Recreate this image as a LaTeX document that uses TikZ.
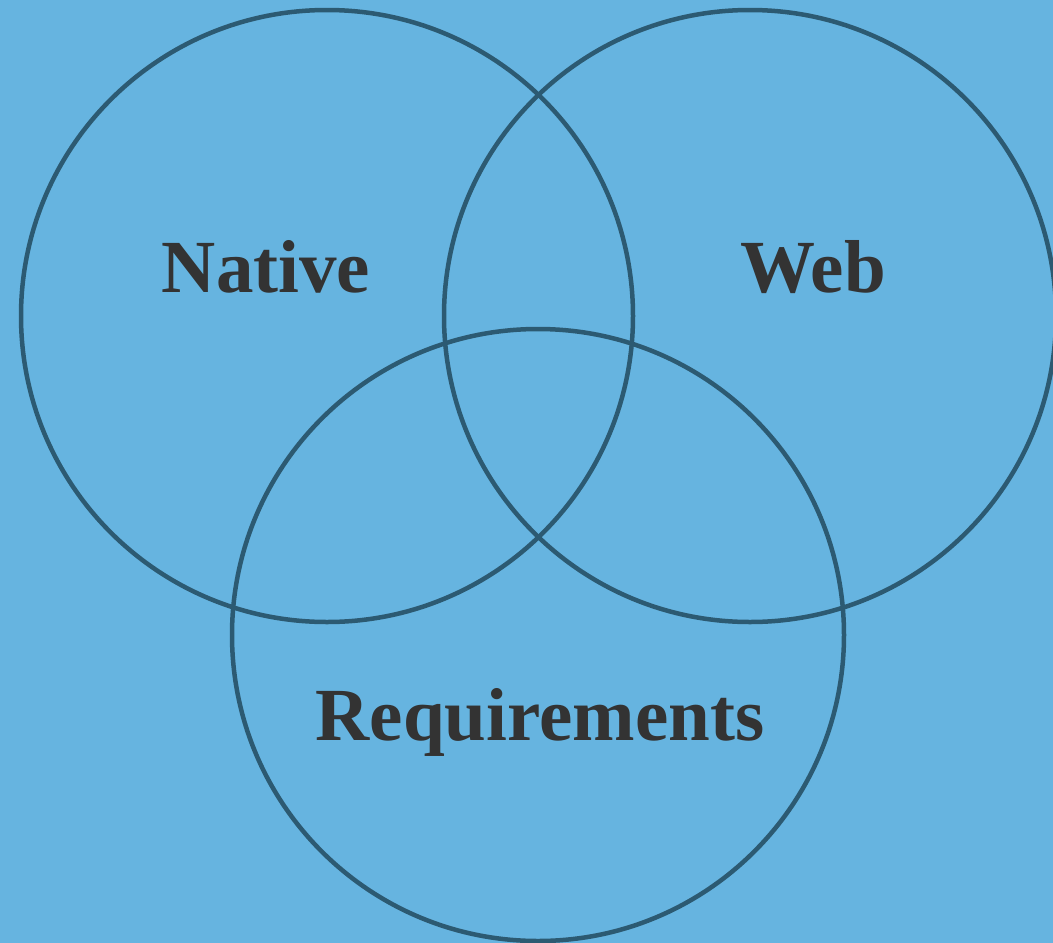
\documentclass[tikz,border=0pt]{standalone}
\usepackage{fontspec}
\setmainfont{Liberation Serif}
\definecolor{bgblue}{HTML}{66B4E0}
\definecolor{ringcol}{HTML}{2C5A72}
\definecolor{txtcol}{HTML}{333333}
\begin{document}
\begin{tikzpicture}[x=1pt,y=-1pt,
  ring/.style={draw=ringcol,line width=4.5pt},
  setlabel/.style={text=txtcol,font=\fontsize{75}{82}\selectfont\bfseries,inner sep=0pt}]
\fill[bgblue] (0,0) rectangle (1053,943);
\useasboundingbox (0,0) rectangle (1053,943);
\draw[ring] (327,316) circle[radius=306];
\draw[ring] (750,316) circle[radius=306];
\draw[ring] (538,635) circle[radius=306];
\node[setlabel,anchor=base] (native) at (266,292) {Native};
\node[setlabel,anchor=base] (web) at (813,292) {Web};
\node[setlabel,anchor=base] (req) at (540,740) {Requirements};
\end{tikzpicture}
\end{document}
